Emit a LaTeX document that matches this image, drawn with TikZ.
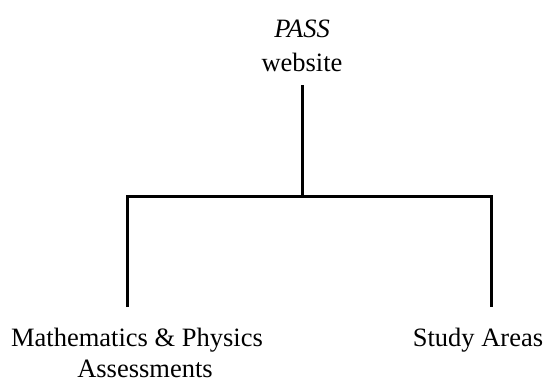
\documentclass[tikz,border=0pt]{standalone}
\usepackage{fontspec}
\setmainfont{Liberation Serif}
\begin{document}
\begin{tikzpicture}[x=1pt,y=1pt,line width=3pt,
    every node/.style={align=center,inner sep=0pt,font=\fontsize{26.5}{31}\selectfont}]
    \useasboundingbox (0,0) rectangle (551,-383);

    \node[anchor=south,outer ysep=13pt](pass) at (302,-85) {\textit{PASS}\\[3pt]website};
    \coordinate(hub) at (302,-196);
    \node[anchor=north,outer ysep=21pt](maths) at (137,-307) {Mathematics \& Physics\\\hspace*{16pt}Assessments};
    \node[anchor=north,outer ysep=21pt](study) at (478,-307) {Study Areas};

    \draw (pass) -- (hub);
    \draw ([xshift=-10pt]maths.north) |- (hub) -| ([xshift=13pt]study.north);

\end{tikzpicture}
\end{document}
